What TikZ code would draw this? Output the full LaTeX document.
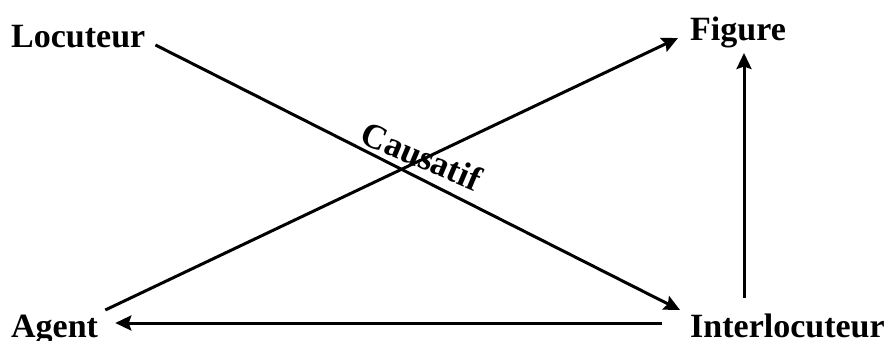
\documentclass[tikz,border=0pt]{standalone}
\usepackage{fontspec}
\setmainfont{Liberation Serif}
\usetikzlibrary{arrows.meta,calc}
\begin{document}
\begin{tikzpicture}[x=1pt,y=-1pt,
  lbl/.style={inner sep=0pt,anchor=base west,font=\fontsize{34}{40}\selectfont\bfseries},
  conn/.style={line width=3pt,-{Stealth[length=16pt,width=15pt,inset=2.5pt]}},
  plain/.style={line width=3pt}]
\useasboundingbox (0,0) rectangle (893,340);
\node[lbl] (loc) at (11,47) {Locuteur};
\node[lbl] (fig) at (690,40) {Figure};
\node[lbl] (agt) at (11,337) {Agent};
\node[lbl] (int) at (690,337) {Interlocuteur};
\draw[conn] ($(loc.base east)+(10,-2)$) -- ($(int.base west)+(-10,-27)$);
\draw[conn] ($(agt.base east)+(7,-27)$) -- ($(fig.base west)+(-12,-2)$);
\draw[conn] ($(int.base west)+(-28,-14)$) -- ($(agt.base east)+(17,-14)$);
\draw[conn] ($(int.base west)+(54,-39)$) -- ($(fig.base west)+(54,13)$);
\node[inner sep=0pt,anchor=base,rotate=-23,font=\fontsize{35}{40}\selectfont\bfseries] (cau) at (417,167) {Causatif};
\end{tikzpicture}
\end{document}
